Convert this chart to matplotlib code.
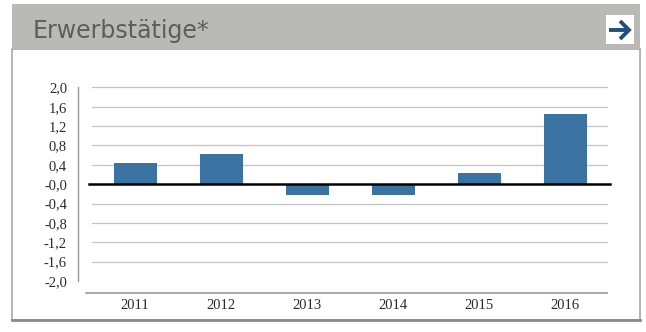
import matplotlib.pyplot as plt
from matplotlib.patches import Rectangle
import numpy as np

'''Erwerbstaetige, Veraenderung zum Vorjahr in %'''
years = ["2011", "2012", "2013", "2014", "2015", "2016"]
values = [0.44, 0.62, -0.22, -0.23, 0.24, 1.46]
yticks = [2.0, 1.6, 1.2, 0.8, 0.4, 0.0, -0.4, -0.8, -1.2, -1.6, -2.0]
ytick_labels = ["2,0", "1,6", "1,2", "0,8", "0,4", "-0,0", "-0,4", "-0,8", "-1,2", "-1,6", "-2,0"]
title = "Erwerbstätige*"

W, H = 646, 332
fig = plt.figure(figsize=(W / 100, H / 100), dpi=100)
fig.patch.set_facecolor('white')

def px(x0, y0, w, h):
    # pixel box (from top-left) -> figure fraction
    return [x0 / W, 1 - (y0 + h) / H, w / W, h / H]

# card frame and grey header
bg = fig.add_axes([0, 0, 1, 1])
bg.set_xlim(0, W)
bg.set_ylim(H, 0)
bg.axis('off')
bg.add_patch(Rectangle((12, 49), 628, 271, facecolor='white', edgecolor='#a8a8a8', linewidth=1.2))
bg.plot([12, 640], [320, 320], color='#8a8a8a', linewidth=2)
bg.add_patch(Rectangle((12, 4), 628, 45, facecolor='#b9bab5', edgecolor='none'))
bg.text(33, 31, title, fontsize=17, color='#5b5e5c', va='center', ha='left', family='DejaVu Sans')

# arrow button
bg.add_patch(Rectangle((606, 15), 28, 29, facecolor='white', edgecolor='none'))
bg.plot([609, 629], [30, 30], color='#1f4f7c', linewidth=2.8, solid_capstyle='butt')
bg.plot([620, 629, 620], [21, 30, 39], color='#1f4f7c', linewidth=2.8,
        solid_joinstyle='miter', solid_capstyle='butt')

# bar chart
ax = fig.add_axes(px(92, 85, 516, 208))
x = np.arange(len(years))
ax.bar(x, values, width=0.5, color='#3a72a2', zorder=3)
ax.set_xlim(-0.5, 5.5)
ax.set_ylim(-2.25, 2.05)

for t in yticks:
    if t == 0.0 or t == -2.0:
        continue
    ax.axhline(t, color='#c4c4c4', linewidth=0.9, zorder=1)
ax.axhline(0, xmin=-0.006, xmax=1.004, color='black', linewidth=1.8, zorder=4, clip_on=False)
ax.axhline(-2.25, xmin=-0.012, xmax=0.998, color='#9a9a9a', linewidth=1.2, zorder=2, clip_on=False)

for s in ax.spines.values():
    s.set_visible(False)

# short left axis line, offset from the plot area
ax.plot([-0.5 - 14 / 86, -0.5 - 14 / 86], [-2.0, 2.0], color='#9a9a9a', linewidth=1,
        clip_on=False, zorder=2)

ax.set_yticks(yticks)
ax.set_yticklabels(ytick_labels, family='Liberation Serif', fontsize=10.5, color='#2b2b2b')
ax.set_xticks(x)
ax.set_xticklabels(years, family='Liberation Serif', fontsize=10.5, color='#2b2b2b')
ax.tick_params(axis='y', length=0, pad=18)
ax.tick_params(axis='x', length=0, pad=4)

fig.savefig("out.png", dpi=100, facecolor='white')
